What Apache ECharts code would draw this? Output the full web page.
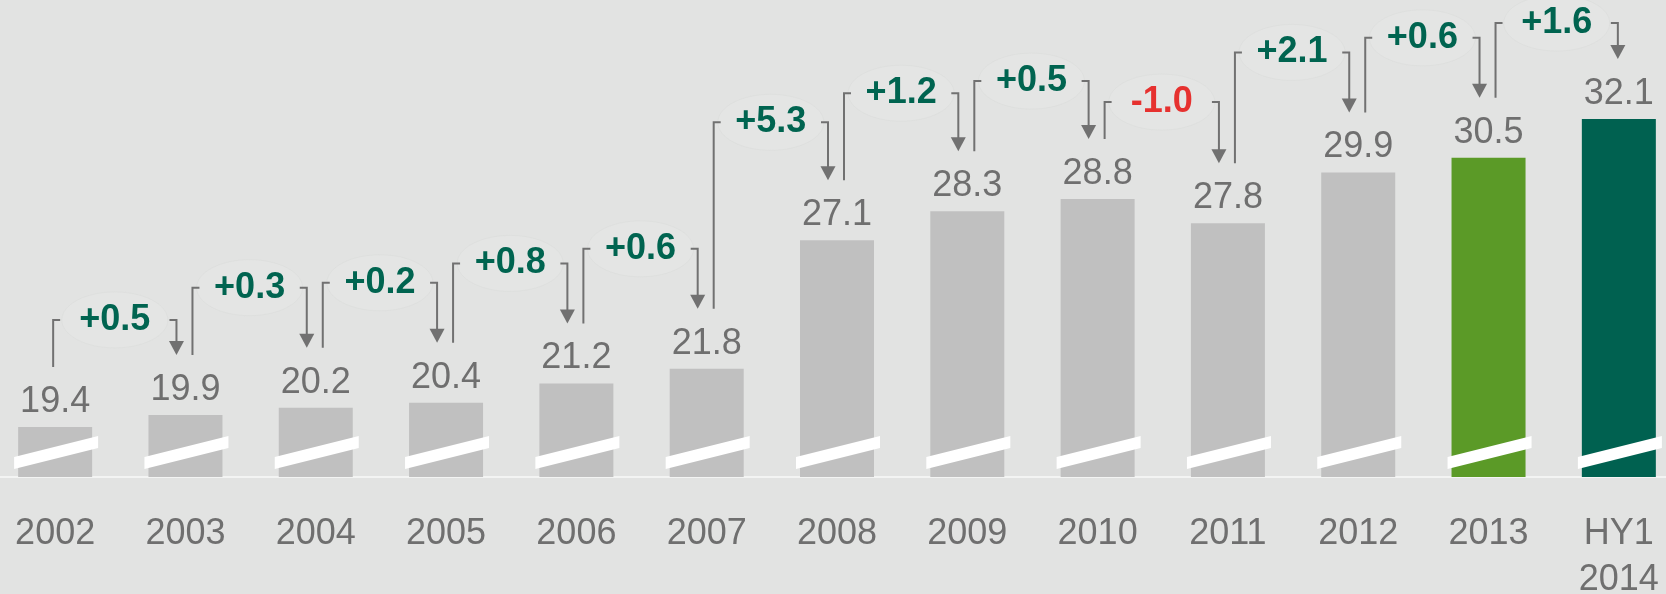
<!DOCTYPE html>
<html>
<head>
<meta charset="utf-8">
<script src="https://cdn.jsdelivr.net/npm/echarts@6/dist/echarts.min.js"></script>
<style>
  html, body { margin: 0; padding: 0; background: #e2e3e2; }
  #chart { width: 1666px; height: 594px; }
</style>
</head>
<body>
<div id="chart"></div>
<script>
// ---- data ----
const categories = ['2002', '2003', '2004', '2005', '2006', '2007', '2008', '2009', '2010', '2011', '2012', '2013', 'HY1\n2014'];
const values = [19.4, 19.9, 20.2, 20.4, 21.2, 21.8, 27.1, 28.3, 28.8, 27.8, 29.9, 30.5, 32.1];
const deltaLabels = ['+0.5', '+0.3', '+0.2', '+0.8', '+0.6', '+5.3', '+1.2', '+0.5', '-1.0', '+2.1', '+0.6', '+1.6'];

// ---- layout / style (not data) ----
const bracketLift = [35, 60, 60, 60, 60, 58, 58, 58, 37, 60, 60, 36];
const barColors = values.map((v, i) => i === values.length - 1 ? '#006150' : (i === values.length - 2 ? '#5b9a27' : '#c0c0c0'));
const FONT = '"Liberation Sans", Arial, sans-serif';
const GRAY = '#6f6f6f';

const chart = echarts.init(document.getElementById('chart'));

function bracketItem(params, api) {
  const i = api.value(0);
  const last = values.length - 1;
  const src = api.coord([i, values[i]]);
  const dst = api.coord([i + 1, values[i + 1]]);
  const srcBottom = src[1] - 60;
  const dstTip = dst[1] - 60;
  const level = Math.min(srcBottom, dstTip) - bracketLift[i];
  const lx = src[0] + (i === 0 ? -2 : 7);
  const rx = dst[0] - (i + 1 === last ? 1 : 9);
  const mx = (lx + rx) / 2;
  const lineStyle = { stroke: '#717171', lineWidth: 2, fill: null };
  const neg = deltaLabels[i].charAt(0) === '-';
  return {
    type: 'group',
    children: [
      { type: 'ellipse', shape: { cx: mx, cy: level, rx: 53, ry: 28 },
        style: { fill: 'rgba(232,233,232,0.35)', stroke: 'rgba(218,219,218,0.5)', lineWidth: 1 } },
      { type: 'polyline', shape: { points: [[lx, srcBottom], [lx, level], [lx + 7, level]] }, style: lineStyle },
      { type: 'polyline', shape: { points: [[rx - 7, level], [rx, level], [rx, dstTip - 12]] }, style: lineStyle },
      { type: 'polygon', shape: { points: [[rx - 7.5, dstTip - 14], [rx + 7.5, dstTip - 14], [rx, dstTip]] },
        style: { fill: '#717171' } },
      { type: 'text', x: mx, y: level,
        style: { text: deltaLabels[i], fontFamily: FONT, fontWeight: 'bold', fontSize: 36,
                 fill: neg ? '#e6312f' : '#006450', align: 'center', verticalAlign: 'middle' } }
    ]
  };
}

function slashItem(params, api) {
  const i = api.value(0);
  const base = api.coord([i, 17.34]);
  const c = base[0], b = base[1];
  return {
    type: 'polygon',
    shape: { points: [[c - 41, b - 20], [c + 43, b - 41], [c + 43, b - 29], [c - 41, b - 8]] },
    style: { fill: '#ffffff' }
  };
}

const option = {
  backgroundColor: '#e2e3e2',
  animation: false,
  grid: { left: -10, right: -18, top: 0, bottom: 117, containLabel: false, outerBoundsMode: 'none' },
  xAxis: {
    type: 'category',
    data: categories,
    axisTick: { show: false },
    axisLine: { show: true, lineStyle: { color: '#f3f4f3', width: 2 } },
    axisLabel: { color: GRAY, fontSize: 36, fontFamily: FONT, margin: 34, lineHeight: 46, interval: 0 }
  },
  yAxis: {
    type: 'value', min: 17.34, max: 37.01, show: false, splitLine: { show: false }
  },
  series: [
    {
      type: 'bar',
      barWidth: 74,
      data: values.map((v, i) => ({ value: v, itemStyle: { color: barColors[i] } })),
      label: { show: true, position: 'top', distance: 7, color: GRAY, fontSize: 36, fontFamily: FONT },
      z: 2
    },
    {
      type: 'custom',
      renderItem: slashItem,
      data: values.map((v, i) => [i, v]),
      z: 3,
      silent: true
    },
    {
      type: 'custom',
      renderItem: bracketItem,
      data: deltaLabels.map((d, i) => [i, values[i]]),
      z: 4,
      silent: true,
      clip: false
    }
  ]
};
chart.setOption(option);
</script>
</body>
</html>
